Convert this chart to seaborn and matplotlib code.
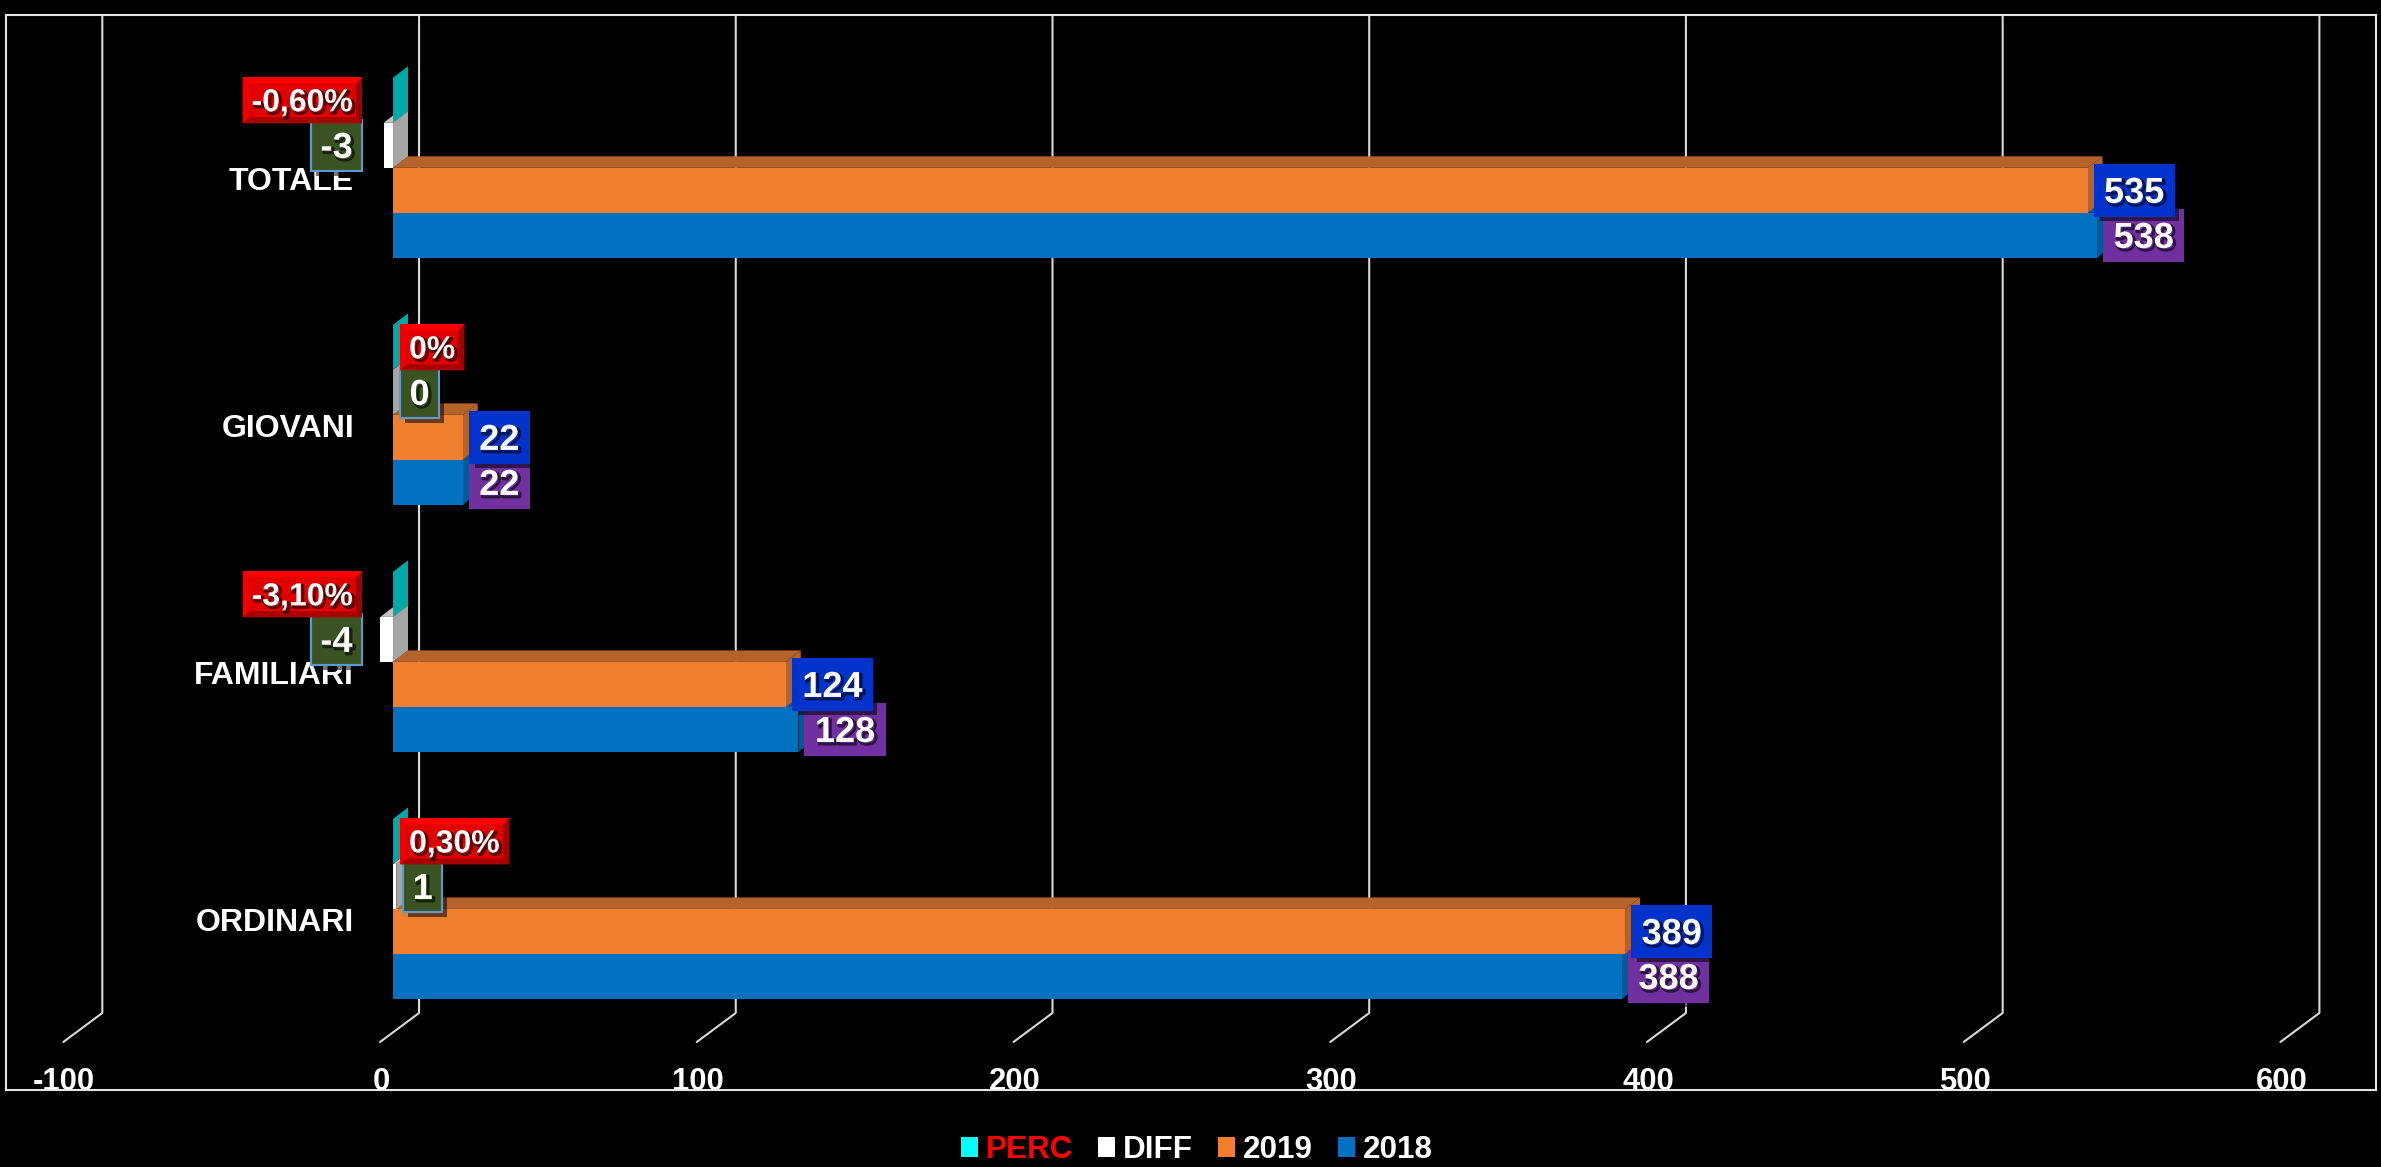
import numpy as np
import pandas as pd
import matplotlib
matplotlib.use("Agg")
import matplotlib.pyplot as plt
import matplotlib.patheffects as pe
from matplotlib.patches import Polygon, Rectangle
from matplotlib.transforms import Affine2D, IdentityTransform
from matplotlib.lines import Line2D
import seaborn as sns

# Data
categories = ["TOTALE", "GIOVANI", "FAMILIARI", "ORDINARI"]
series_names = ["PERC", "DIFF", "2019", "2018"]
perc_values = [-0.60, 0.0, -3.10, 0.30]
diff_values = [-3, 0, -4, 1]
values_2019 = [535, 22, 124, 389]
values_2018 = [538, 22, 128, 388]
perc_labels = ["-0,60%", "0%", "-3,10%", "0,30%"]
x_ticks = [-100, 0, 100, 200, 300, 400, 500, 600]

# Colours
front_colors = ["#00FFFF", "#FFFFFF", "#F07F30", "#0070C0"]
top_colors = ["#00A8A8", "#C4C4C4", "#B5632A", "#005A9A"]
side_colors = ["#00A8A8", "#A6A6A6", "#B5632A", "#005A9A"]

df = pd.DataFrame({
    "cat": categories * 4,
    "serie": np.repeat(series_names, 4),
    "val": [v / 100 for v in perc_values] + diff_values + values_2019 + values_2018,
})

sns.set_theme(style="dark")
plt.rcParams["font.family"] = ["Liberation Sans", "DejaVu Sans"]
plt.rcParams["font.weight"] = "bold"
plt.rcParams["axes.unicode_minus"] = False

W, H = 2381, 1167
fig = plt.figure(figsize=((W + 0.2) / 100, (H + 0.2) / 100), dpi=100, facecolor="black")
# plot frame in pixels, from the top left corner
left, right, top, bottom = 6, 2376, 15, 1090
ax = fig.add_axes([left / W, 1 - bottom / H, (right - left) / W, (bottom - top) / H])
ax.set_facecolor("black")

sns.barplot(data=df, y="cat", x="val", hue="serie", order=categories, hue_order=series_names,
            palette=front_colors, saturation=1, width=0.729, legend=False, ax=ax, zorder=3,
            linewidth=0, edgecolor="none")

# axis scale: 3.167 px per unit with zero at 393, 247 px between groups
ppu = 3.167
ax.set_xlim((left - 393) / ppu, (right - 393) / ppu)
ax.set_ylim((bottom - 168) / 247, (top - 168) / 247)
ax.set_xlabel("")
ax.set_ylabel("")
ax.grid(False)

ax.set_xticks(x_ticks)
ax.tick_params(axis="x", length=0, pad=-16.5, labelsize=22.3, labelcolor="white")
ax.tick_params(axis="y", length=0, pad=-250.6, labelsize=23, labelcolor="white")
ax.set_axisbelow(True)
for lab in ax.get_xticklabels():
    lab.set_transform(lab.get_transform() + Affine2D().translate(-12, 0))
for lab in ax.get_yticklabels():
    lab.set_transform(lab.get_transform() + Affine2D().translate(0, -10))
for s in ax.spines.values():
    s.set_visible(True)
    s.set_color("#E6E6E6")
    s.set_linewidth(1.5)

ident = IdentityTransform()
to_px = ax.transData.transform
y_back = H - 1013
y_front = H - 1042
y_top = H - top

# back wall and floor lines
for v in x_ticks:
    x0 = to_px((v, 0))[0]
    ax.add_line(Line2D([x0 + 26, x0 + 26, x0 - 13], [y_top, y_back, y_front], transform=ident,
                       color="#D9D9D9", lw=1.5, zorder=1))

# depth faces of the bars, upper series stacked over the lower ones
dx, dy = 15, 11.5
for i, cont in enumerate(ax.containers):
    z = 2.5 - i * 0.1
    for bar in cont:
        (x0, y0), (x1, y1) = to_px(bar.get_bbox().get_points())
        x0, x1 = min(x0, x1), max(x0, x1)
        y0, y1 = min(y0, y1), max(y0, y1)
        ax.add_patch(Polygon([(x1, y0), (x1 + dx, y0 + dy), (x1 + dx, y1 + dy), (x1, y1)],
                             transform=ident, fc=side_colors[i], ec="none", zorder=z))
        ax.add_patch(Polygon([(x0, y1), (x0 + dx, y1 + dy), (x1 + dx, y1 + dy), (x1, y1)],
                             transform=ident, fc=top_colors[i], ec="none", zorder=z))

rend = fig.canvas.get_renderer()
shadow = [pe.SimpleLineShadow(offset=(1.5, -1.5), shadow_color="black", alpha=0.6, linewidth=2), pe.Normal()]


def box_label(text, value, bar_y, zorder, face, edge=None, h=51, size=26, extra=19, neg_right=None):
    cx, cy = to_px((value, bar_y))
    t = ax.text(0, 0, text, transform=ident, ha="center", va="center", color="white",
                fontsize=size, fontweight="bold", zorder=zorder + 0.5, path_effects=shadow)
    w = t.get_window_extent(rend).width + extra
    if neg_right is not None:
        x0 = neg_right - w
    else:
        x0 = cx + 7
    t.set_position((x0 + w / 2, cy - 3))
    y0 = cy - h / 2
    return x0, y0, w, h, face, edge, zorder


def draw_flat(box):
    x0, y0, w, h, face, edge, zorder = box
    ax.add_patch(Rectangle((x0 + 5, y0 - 5), w, h, transform=ident, fc="black", alpha=0.55,
                           ec="none", zorder=zorder - 0.1))
    ax.add_patch(Rectangle((x0, y0), w, h, transform=ident, fc=face, ec=edge or face,
                           lw=1.5, zorder=zorder))


def draw_bevel(box, b=6):
    x0, y0, w, h, face, edge, zorder = box
    x1, y1 = x0 + w, y0 + h
    ax.add_patch(Rectangle((x0, y0), w, h, transform=ident, fc=face, ec="none", zorder=zorder))
    faces = [("#FF0000", [(x0, y1), (x1, y1), (x1 - b, y1 - b), (x0 + b, y1 - b)]),
             ("#A80000", [(x0, y0), (x1, y0), (x1 - b, y0 + b), (x0 + b, y0 + b)]),
             ("#F00000", [(x0, y0), (x0, y1), (x0 + b, y1 - b), (x0 + b, y0 + b)]),
             ("#A00000", [(x1, y0), (x1, y1), (x1 - b, y1 - b), (x1 - b, y0 + b)])]
    for col, pts in faces:
        ax.add_patch(Polygon(pts, transform=ident, fc=col, ec="none", zorder=zorder + 0.1))


# value labels, bottom series first so upper boxes sit on top
zero_px = to_px((0, 0))[0]
neg_right = zero_px - 31
offsets = {"PERC": -1.5, "DIFF": -0.5, "2019": 0.5, "2018": 1.5}
bar_h = 0.729 / 4
for i, cat in enumerate(categories):
    draw_flat(box_label(str(values_2018[i]), values_2018[i], i + offsets["2018"] * bar_h, 6, "#7030A0"))
    draw_flat(box_label(str(values_2019[i]), values_2019[i], i + offsets["2019"] * bar_h, 7, "#0033CC"))
    d = diff_values[i]
    draw_flat(box_label(str(d), d, i + offsets["DIFF"] * bar_h, 8, "#3B5323", edge="#5B9BD5",
                        neg_right=neg_right if d < 0 else None))
    p = perc_values[i]
    draw_bevel(box_label(perc_labels[i], p / 100, i + offsets["PERC"] * bar_h, 9, "#E00000", h=46,
                         size=23, extra=18, neg_right=neg_right if p < 0 else None))

# Legend
handles = [Rectangle((0, 0), 1, 1, fc=c, ec="none") for c in front_colors]
leg = fig.legend(handles, series_names, loc="center", bbox_to_anchor=(1197 / W, 1 - 1150 / H), ncols=4,
                 frameon=False, fontsize=22.6, handlelength=0.54, handleheight=0.6, handletextpad=0.25,
                 columnspacing=0.8, borderpad=0, borderaxespad=0)
for txt in leg.get_texts():
    txt.set_color("white")
    txt.set_fontweight("bold")
leg.get_texts()[0].set_color("#FF0000")

fig.savefig("out.png", dpi=100, facecolor="black")
